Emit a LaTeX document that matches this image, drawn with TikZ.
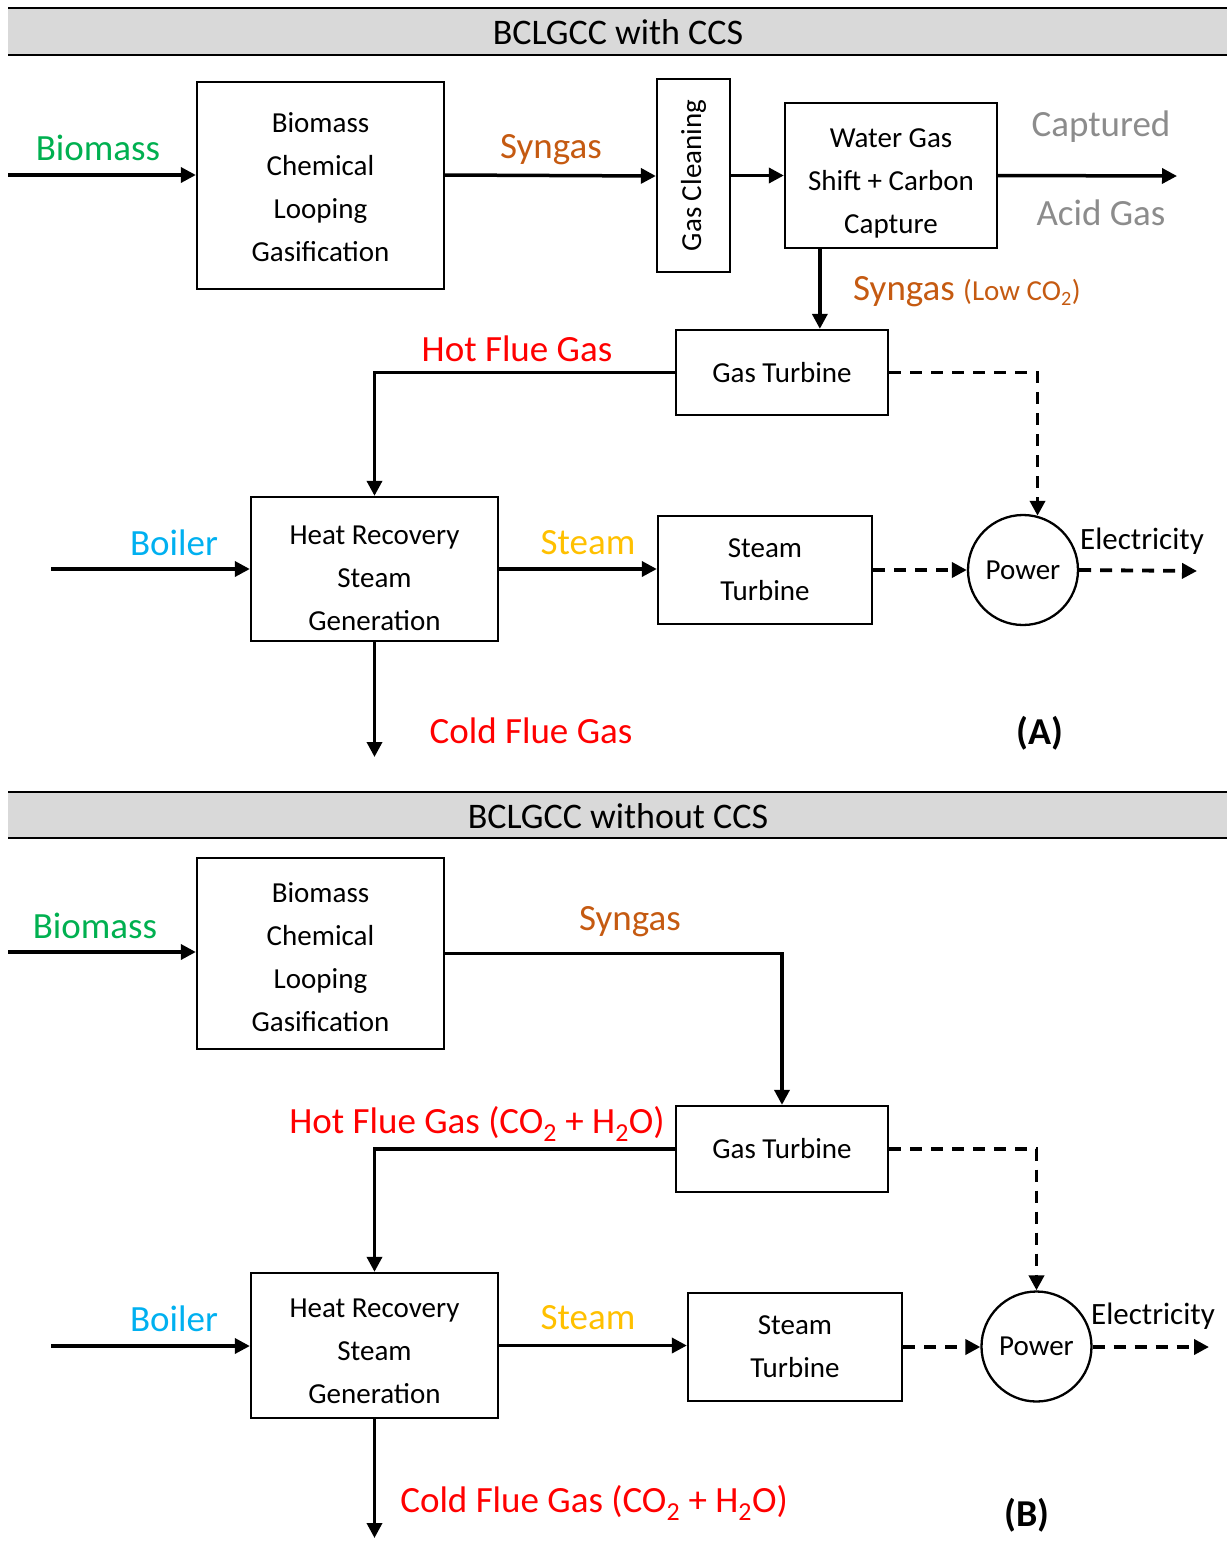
\documentclass[tikz,border=0pt]{standalone}
\usepackage{fontspec}
\setmainfont{Carlito}
\usetikzlibrary{arrows.meta,calc}
\definecolor{cgreen}{HTML}{00B050}
\definecolor{corange}{HTML}{C55A11}
\definecolor{cgray}{HTML}{8C8C8C}
\definecolor{cred}{HTML}{FF0000}
\definecolor{cblue}{HTML}{00B0F0}
\definecolor{cgold}{HTML}{FFC000}
\definecolor{hdrfill}{HTML}{D9D9D9}
\begin{document}
\begin{tikzpicture}[x=1pt,y=-1pt,
  box/.style={draw, line width=2.3pt, inner sep=0pt, align=center, font=\fontsize{29}{43}\selectfont},
  btxt/.style={inner sep=0pt, align=center, font=\fontsize{29}{43}\selectfont},
  flow/.style={line width=3.5pt, -{Triangle[length=15pt,width=15pt]}},
  dflow/.style={flow, line width=3.8pt, dash pattern=on 12pt off 9pt},
  lbl/.style={inner sep=0pt, font=\fontsize{37}{44}\selectfont},
  hdr/.style={inner sep=0pt, font=\fontsize{36}{44}\selectfont},
  pwr/.style={draw, circle, line width=2.3pt, minimum size=110pt, inner sep=0pt, font=\fontsize{29}{35}\selectfont},
  tag/.style={inner sep=0pt, font=\fontsize{38}{44}\selectfont\bfseries}]
\useasboundingbox (0,0) rectangle (1227,1556);

% ===== Panel A =====
\fill[hdrfill] (8,8) rectangle (1227,55);
\draw[line width=2.5pt] (8,8) -- (1227,8);
\draw[line width=2.5pt] (8,55) -- (1227,55);
\node[hdr] (hdrA) at (618,32) {BCLGCC with CCS};

\node[box, minimum width=247pt, minimum height=207pt] (bioA) at (320.5,185.5) {};
\node[btxt] (bioAt) at (320.5,187) {Biomass\\Chemical\\Looping\\Gasification};
\node[box, minimum width=73pt, minimum height=193pt] (gcA) at (693.5,175.5) {};
\node[btxt, rotate=90] (gcAt) at (gcA.center) {Gas Cleaning};
\node[box, minimum width=212pt, minimum height=145pt] (wgsA) at (891,175.5) {};
\node[btxt] (wgsAt) at (891,183) {Water Gas\\Shift + Carbon\\Capture};
\node[box, minimum width=212pt, minimum height=85pt] (gtA) at (782,372.5) {Gas Turbine};
\node[box, minimum width=247pt, minimum height=144pt] (hrA) at (374.5,569) {};
\node[btxt] (hrAt) at (374.5,578) {Heat Recovery\\Steam\\Generation};
\node[box, minimum width=214pt, minimum height=108pt] (stA) at (765,570) {Steam\\Turbine};
\node[pwr] (pwA) at (1023,570) {Power};

\coordinate (inBioA) at (8,175);
\coordinate (outCapA) at (1177,176);
\coordinate (inBoilA) at (51,569);
\coordinate (outColdA) at (374.5,757);
\coordinate (outElA) at (1197,571);
\coordinate (wgsOutA) at ($(wgsA.south west)+(36,0)$);

\draw[flow] (inBioA) -- (inBioA -| bioA.west);
\draw[flow] (inBioA -| bioA.east) -- ($(gcA.west)+(0,0.5)$);
\draw[flow] (gcA.east) -- (gcA.east -| wgsA.west);
\draw[flow] (wgsA.east) -- (outCapA);
\draw[flow] (wgsOutA) -- (wgsOutA |- gtA.north);
\draw[flow] (gtA.west) -| (hrA.north);
\draw[flow] (inBoilA) -- (hrA.west);
\draw[flow] (hrA.east) -- (hrA.east -| stA.west);
\draw[flow] (hrA.south) -- (outColdA);
\draw[dflow] (gtA.east) -| (pwA.75);
\draw[dflow] (stA.east) -- (pwA.west);
\draw[dflow] (pwA.east) -- (outElA);

\node[lbl, text=cgreen] (lBioA) at (98,148) {Biomass};
\node[lbl, text=corange] (lSynA) at (551,150) {Syngas};
\node[lbl, text=cgray] (lCapA) at (1101,127) {Captured};
\node[lbl, text=cgray] (lAcidA) at (1101,213) {Acid Gas};
\node[lbl, text=corange, anchor=west] (lSynLow) at (853,292) {Syngas {\fontsize{29}{35}\selectfont(Low CO\textsubscript{2})}};
\node[lbl, text=cred] (lHotA) at (517,349) {Hot Flue Gas};
\node[lbl, text=cblue] (lBoilA) at (174,543) {Boiler};
\node[lbl, text=cgold] (lSteamA) at (588,543) {Steam};
\node[inner sep=0pt, font=\fontsize{31}{36}\selectfont] (lElA) at (1142,541) {Electricity};
\node[lbl, text=cred] (lColdA) at (531,731) {Cold Flue Gas};
\node[tag] (tagA) at (1040,733) {(A)};

% ===== Panel B =====
\fill[hdrfill] (8,792) rectangle (1227,838);
\draw[line width=2.5pt] (8,792) -- (1227,792);
\draw[line width=2.5pt] (8,838) -- (1227,838);
\node[hdr] (hdrB) at (618,816) {BCLGCC without CCS};

\node[box, minimum width=247pt, minimum height=191pt] (bioB) at (320.5,953.5) {};
\node[btxt] (bioBt) at (320.5,957) {Biomass\\Chemical\\Looping\\Gasification};
\node[box, minimum width=212pt, minimum height=86pt] (gtB) at (782,1149) {Gas Turbine};
\node[box, minimum width=247pt, minimum height=145pt] (hrB) at (374.5,1345.5) {};
\node[btxt] (hrBt) at (374.5,1351) {Heat Recovery\\Steam\\Generation};
\node[box, minimum width=214pt, minimum height=108pt] (stB) at (795,1347) {Steam\\Turbine};
\node[pwr] (pwB) at (1036.5,1346.5) {Power};

\coordinate (inBioB) at (8,952);
\coordinate (inBoilB) at (51,1346);
\coordinate (outColdB) at (374.5,1538);
\coordinate (outElB) at (1209,1347);

\draw[flow] (inBioB) -- (inBioB -| bioB.west);
\draw[flow] (bioB.east) -| (gtB.north);
\draw[flow] (gtB.west) -| (hrB.north);
\draw[flow] (inBoilB) -- (inBoilB -| hrB.west);
\draw[flow] (hrB.east) -- (hrB.east -| stB.west);
\draw[flow] (hrB.south) -- (outColdB);
\draw[dflow] (gtB.east) -| (pwB.north);
\draw[dflow] (stB.east) -- (stB.east -| pwB.west);
\draw[dflow] (stB.east -| pwB.east) -- (outElB);

\node[lbl, text=cgreen] (lBioB) at (95,926) {Biomass};
\node[lbl, text=corange] (lSynB) at (630,922) {Syngas};
\node[lbl, text=cred] (lHotB) at (477,1124) {Hot Flue Gas (CO\textsubscript{2} + H\textsubscript{2}O)};
\node[lbl, text=cblue] (lBoilB) at (174,1319) {Boiler};
\node[lbl, text=cgold] (lSteamB) at (588,1318) {Steam};
\node[inner sep=0pt, font=\fontsize{31}{36}\selectfont] (lElB) at (1153,1316) {Electricity};
\node[lbl, text=cred] (lColdB) at (594,1503) {Cold Flue Gas (CO\textsubscript{2} + H\textsubscript{2}O)};
\node[tag] (tagB) at (1027,1515) {(B)};
\end{tikzpicture}
\end{document}
